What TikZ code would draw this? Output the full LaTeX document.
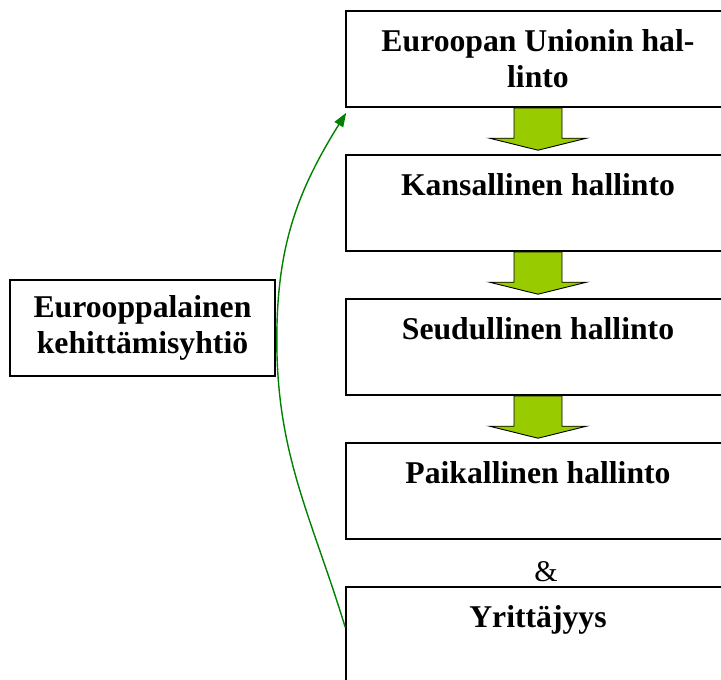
\documentclass[tikz,border=0pt]{standalone}
\usepackage{fontspec}
\setmainfont{Liberation Serif}
\usepackage{tikz}
\usetikzlibrary{positioning,calc,arrows.meta}
\definecolor{leafgreen}{HTML}{99CC00}
\definecolor{linkgreen}{HTML}{008000}
\tikzset{
	box/.style={draw, line width=1.6pt, minimum width=384pt, minimum height=96pt, inner sep=0pt},
	sidebox/.style={draw, line width=1.6pt, minimum width=265pt, minimum height=96pt, inner sep=0pt, align=center, font=\fontsize{31.7}{36}\selectfont\bfseries},
	title/.style={inner sep=0pt, align=center, font=\fontsize{31.7}{36}\selectfont\bfseries},
	downarrow/.style={draw, line width=0.9pt, fill=leafgreen, line join=miter},
	link/.style={draw=linkgreen, line width=1.4pt, -{Triangle[length=14pt,width=10pt]}}
}

\begin{document}
\begin{tikzpicture}[x=1pt,y=1pt]
				\useasboundingbox (0,0) rectangle (721,-680);
				\clip (0,0) rectangle (721,-680);
				
				\node[box] (eu) at (538,-59) {};
				\node[box] (kans) at (538,-203) {};
				\node[box] (seud) at (538,-347) {};
				\node[box] (paik) at (538,-491) {};
				\node[box] (yrit) at (538,-635) {};
				\node[sidebox] (kehy) at (142.5,-328) {Eurooppalainen\\kehittämisyhtiö};
				
				\node[title, below=19pt of eu.north] (euT) {Euroopan Unionin hal-\\linto};
				\node[title, below=19pt of kans.north] (kansT) {Kansallinen hallinto};
				\node[title, below=19pt of seud.north] (seudT) {Seudullinen hallinto};
				\node[title, below=19pt of paik.north] (paikT) {Paikallinen hallinto};
				\node[title, below=19pt of yrit.north] (yritT) {Yrittäjyys};
				\node[inner sep=0pt, font=\fontsize{30}{34}\selectfont] (amp) at (546,-571.5) {\&};
				
				\foreach \a/\b in {eu/kans,kans/seud,seud/paik}
					\draw[downarrow] ($(\a.south)+(-24,0)$) -- ($(\a.south)+(24,0)$) -- ($(\b.north)+(24,16)$) -- ($(\b.north)+(48.5,16)$) -- ($(\b.north)+(0,4)$) -- ($(\b.north)+(-48.5,16)$) -- ($(\b.north)+(-24,16)$) -- cycle;
				
				\coordinate (ystart) at ($(yrit.north west)+(0,-41)$);
				\coordinate (kmid) at ($(kehy.east)+(1,-12)$);
				\coordinate (eutip) at ($(eu.south west)+(1,-5)$);
				\draw[link] (ystart) to[out=107,in=-90] (kmid) to[out=90,in=-122] (eutip);
				\end{tikzpicture}
\end{document}
